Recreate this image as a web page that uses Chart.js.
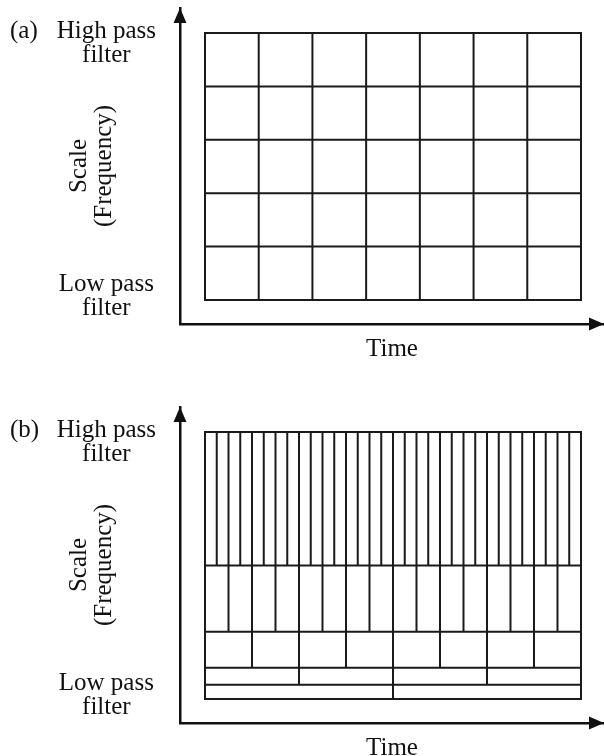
<!DOCTYPE html>
<html>
<head>
<meta charset="utf-8">
<script src="https://cdn.jsdelivr.net/npm/chart.js@4/dist/chart.umd.min.js"></script>
<style>
    html, body { margin: 0; padding: 0; background: #fff; overflow: hidden; }
    .panel { position: absolute; left: 0; width: 604px; height: 378px; }
    #panelA { top: 0; }
    #panelB { top: 399px; height: 357px; overflow: hidden; }
</style>
</head>
<body>
<div class="panel" id="panelA"><canvas id="chartA" width="604" height="378"></canvas></div>
<div class="panel" id="panelB"><canvas id="chartB" width="604" height="378"></canvas></div>
<script>
// (a) grade uniforme tempo x frequência
var stftTimeCols = 7;
var stftFreqRows = 5;

// (b) bandas da wavelet, de baixo (passa-baixa) para cima (passa-alta)
var waveletBandEdges = [0, 0.053, 0.117, 0.252, 0.5, 1];
var waveletBandCols = [2, 4, 8, 16, 32];

// rótulos do eixo vertical
var yTickValues = [0.015, 0.9625];
var yTickLabels = [["Low pass", "filter"], ["High pass", "filter"]];
var yTitle = ["Scale", "(Frequency)"];
var xTitle = "Time";
var panelLetters = ["(a)", "(b)"];

var FONT = "Liberation Serif";
var INK = "#111";

// adiciona um segmento de reta (o ponto com y nulo quebra a linha)
function addSegment(pts, x1, y1, x2, y2) {
    pts.push({ x: x1, y: y1 }, { x: x2, y: y2 }, { x: x2, y: null });
}

function gridSegments(cols, rows) {
    var pts = [];
    for (var r = 0; r <= rows; r++) addSegment(pts, 0, r / rows, 1, r / rows);
    for (var c = 0; c <= cols; c++) addSegment(pts, c / cols, 0, c / cols, 1);
    return pts;
}

function waveletSegments(edges, counts) {
    var pts = [];
    edges.forEach(function (e) { addSegment(pts, 0, e, 1, e); });
    addSegment(pts, 0, 0, 0, 1);
    addSegment(pts, 1, 0, 1, 1);
    counts.forEach(function (n, j) {
        for (var i = 1; i < n; i++) {
            addSegment(pts, i / n, edges[j], i / n, edges[j + 1]);
        }
    });
    return pts;
}

// setas dos eixos e letra do painel
var arrowsPlugin = {
    id: "arrows",
    afterDraw: function (chart, args, opts) {
        var ctx = chart.ctx, area = chart.chartArea;
        ctx.save();
        ctx.fillStyle = INK;
        ctx.beginPath();
        ctx.moveTo(area.left, area.top);
        ctx.lineTo(area.left - 6.5, area.top + 15);
        ctx.lineTo(area.left + 6.5, area.top + 15);
        ctx.closePath();
        ctx.fill();
        ctx.beginPath();
        ctx.moveTo(area.right, area.bottom);
        ctx.lineTo(area.right - 15, area.bottom - 6.5);
        ctx.lineTo(area.right - 15, area.bottom + 6.5);
        ctx.closePath();
        ctx.fill();
        ctx.font = "25px '" + FONT + "'";
        ctx.textBaseline = "middle";
        ctx.textAlign = "left";
        ctx.fillText(opts.letter, 10, area.top + 23);
        ctx.restore();
    }
};

function setupChart(canvasId, points, letter) {
    var el = document.getElementById(canvasId);
    return new Chart(el, {
        type: "scatter",
        data: {
            datasets: [{
                data: points,
                showLine: true,
                spanGaps: false,
                borderColor: "#1a1a1a",
                borderWidth: 2,
                borderCapStyle: "square",
                pointRadius: 0,
                pointHoverRadius: 0
            }]
        },
        options: {
            responsive: false,
            animation: false,
            events: [],
            layout: { padding: { top: 8, right: 0, bottom: 0, left: 0 } },
            plugins: {
                legend: { display: false },
                tooltip: { enabled: false },
                arrows: { letter: letter }
            },
            scales: {
                x: {
                    type: "linear",
                    min: -0.0665,
                    max: 1.0612,
                    grid: { display: false },
                    border: { display: true, color: INK, width: 2.5 },
                    ticks: { display: false },
                    title: {
                        display: true,
                        text: xTitle,
                        color: INK,
                        font: { family: FONT, size: 25, lineHeight: 1 },
                        padding: { top: 12.5, bottom: 16.5 }
                    },
                    afterFit: function (scale) { scale.height = 54; }
                },
                y: {
                    type: "linear",
                    min: -0.0899,
                    max: 1.0936,
                    grid: { display: false },
                    border: { display: true, color: INK, width: 2.5 },
                    afterBuildTicks: function (scale) {
                        scale.ticks = yTickValues.map(function (v) { return { value: v }; });
                    },
                    ticks: {
                        autoSkip: false,
                        crossAlign: "center",
                        padding: 16,
                        color: INK,
                        font: { family: FONT, size: 25, lineHeight: "24px" },
                        callback: function (value, index) { return yTickLabels[index]; }
                    },
                    title: {
                        display: true,
                        text: yTitle,
                        color: INK,
                        font: { family: FONT, size: 25, lineHeight: 1 },
                        padding: { top: 66.5, bottom: 0 }
                    },
                    afterFit: function (scale) {
                        scale.width = 180;
                        scale.paddingTop = 0;
                        scale.paddingBottom = 0;
                    }
                }
            }
        },
        plugins: [arrowsPlugin]
    });
}

function setupCharts() {
    setupChart("chartA", gridSegments(stftTimeCols, stftFreqRows), panelLetters[0]);
    setupChart("chartB", waveletSegments(waveletBandEdges, waveletBandCols), panelLetters[1]);
}

window.addEventListener("load", setupCharts);
</script>
</body>
</html>
